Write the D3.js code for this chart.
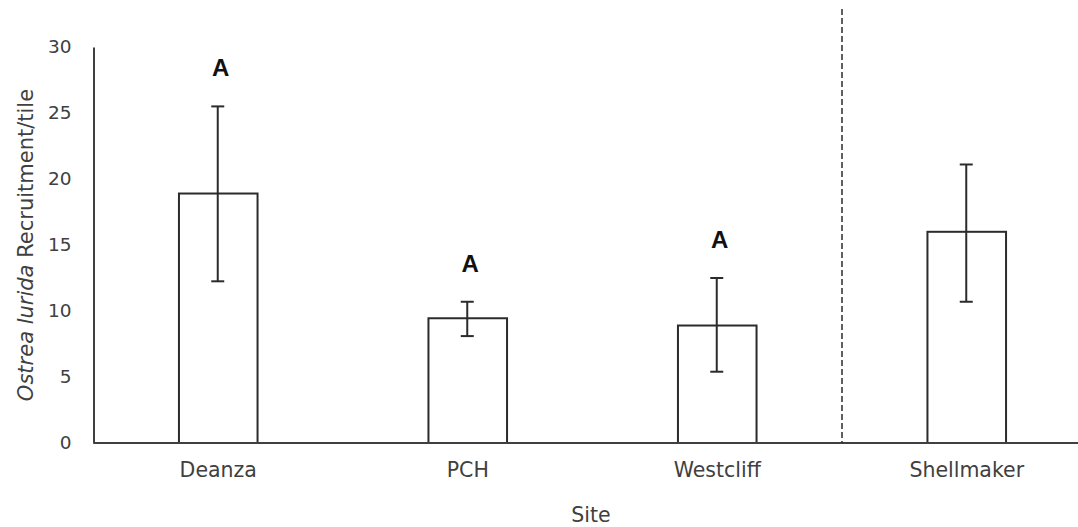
<!DOCTYPE html>
<html>
<head>
<meta charset="utf-8">
<script src="https://cdn.jsdelivr.net/npm/d3@7"></script>
<style>
  html, body { margin: 0; padding: 0; background: #fff; }
  svg { display: block; }
  text { font-family: "DejaVu Sans", sans-serif; fill: #404040; }
</style>
</head>
<body>
<svg id="chart" width="1078" height="527"></svg>
<script>
// Mean recruitment per tile by site, with error bar limits
const sites = ["Deanza", "PCH", "Westcliff", "Shellmaker"];
const means = [18.9, 9.45, 8.9, 16.0];
const errLow = [12.25, 8.1, 5.4, 10.7];
const errHigh = [25.5, 10.7, 12.5, 21.1];
const letters = ["A", "A", "A", ""];
const yTicks = [0, 5, 10, 15, 20, 25, 30];

const svg = d3.select("#chart");
const W = 1078, H = 527;

const margin = { left: 93.5, top: 47, bottom: 84 };
const y = d3.scaleLinear().domain([0, 30]).range([H - margin.bottom, margin.top]);
const x = d3.scaleBand().domain(sites)
  .range([margin.left, margin.left + 998])
  .paddingInner(0.685).paddingOuter(0.3425);

const ink = "#2b2b2b";
const axisCol = "#404040";

// y axis: line plus labels, no tick marks
const yAxis = d3.axisLeft(y).tickValues(yTicks).tickSize(0).tickPadding(22);
const gy = svg.append("g").attr("transform", `translate(${margin.left},0)`).call(yAxis);
gy.select(".domain").attr("stroke", axisCol).attr("stroke-width", 2);
gy.selectAll(".tick text")
  .style("font-size", "18.5px").attr("fill", "#404040")
  .attr("font-family", "DejaVu Sans, sans-serif");

// bars
svg.append("g").selectAll("rect").data(sites).join("rect")
  .attr("x", d => x(d))
  .attr("y", (d, i) => y(means[i]))
  .attr("width", x.bandwidth())
  .attr("height", (d, i) => y(0) - y(means[i]))
  .attr("fill", "#fff").attr("stroke", ink).attr("stroke-width", 2);

// error bars
const cap = 6.5;
const eg = svg.append("g").attr("stroke", ink).attr("stroke-width", 2);
sites.forEach((s, i) => {
  const cx = x(s) + x.bandwidth() / 2 - 0.5;
  eg.append("line").attr("x1", cx).attr("x2", cx).attr("y1", y(errLow[i])).attr("y2", y(errHigh[i]));
  eg.append("line").attr("x1", cx - cap).attr("x2", cx + cap).attr("y1", y(errLow[i])).attr("y2", y(errLow[i]));
  eg.append("line").attr("x1", cx - cap).attr("x2", cx + cap).attr("y1", y(errHigh[i])).attr("y2", y(errHigh[i]));
});

// significance letters above the error bars
svg.append("g").selectAll("text").data(sites).join("text")
  .attr("x", d => x(d) + x.bandwidth() / 2 + 2.5)
  .attr("y", (d, i) => y(errHigh[i]) - 30)
  .attr("text-anchor", "middle")
  .style("font-family", "Liberation Sans, Arial, sans-serif")
  .style("font-weight", "bold")
  .style("font-size", "24px")
  .style("fill", "#111")
  .text((d, i) => letters[i]);

// x axis line across the plot
svg.append("line")
  .attr("x1", margin.left).attr("x2", x.range()[1])
  .attr("y1", y(0)).attr("y2", y(0))
  .attr("stroke", axisCol).attr("stroke-width", 2);

// category labels
svg.append("g").selectAll("text").data(sites).join("text")
  .attr("x", d => x(d) + x.bandwidth() / 2)
  .attr("y", y(0) + 34)
  .attr("text-anchor", "middle")
  .style("font-size", "20.5px")
  .text(d => d);

// dashed divider between the restoration sites and Shellmaker
const divX = x("Shellmaker") - x.step() * x.paddingInner() / 2;
svg.append("line")
  .attr("x1", divX).attr("x2", divX)
  .attr("y1", 9).attr("y2", y(0))
  .attr("stroke", ink).attr("stroke-width", 1.5)
  .attr("stroke-dasharray", "6,3");

// axis titles
svg.append("text")
  .attr("x", 591).attr("y", 522)
  .attr("text-anchor", "middle")
  .style("font-size", "20.5px")
  .text("Site");

const yt = svg.append("text")
  .attr("transform", `translate(33,${(y(0) + y(30)) / 2}) rotate(-90)`)
  .attr("text-anchor", "middle")
  .style("font-size", "21px");
yt.append("tspan").style("font-style", "italic").text("Ostrea lurida");
yt.append("tspan").text(" Recruitment/tile");
</script>
</body>
</html>
